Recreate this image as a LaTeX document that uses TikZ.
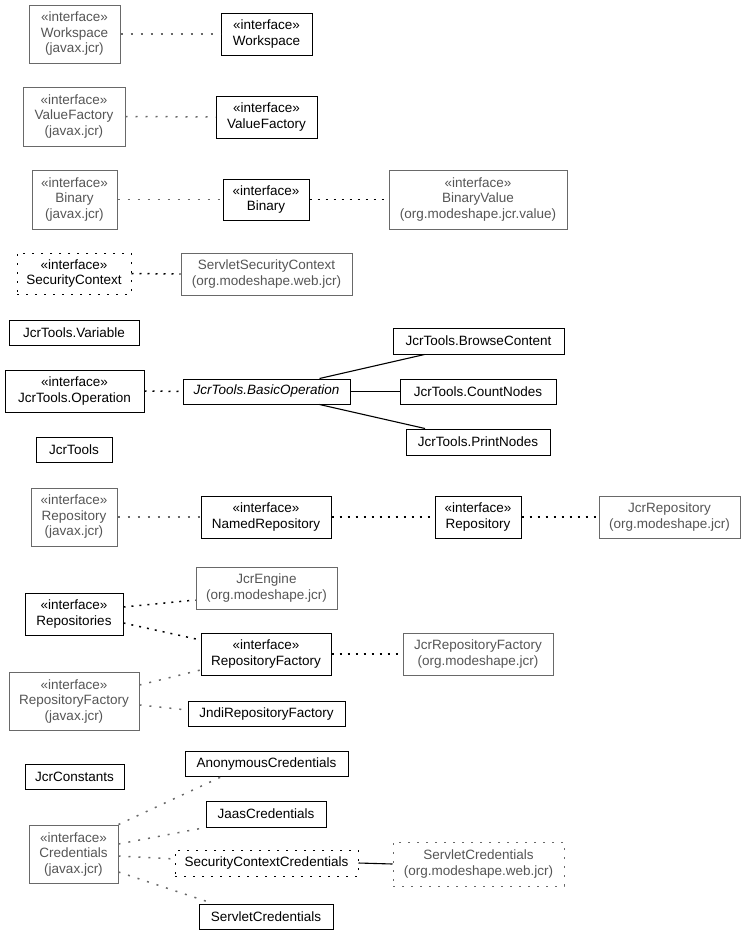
\documentclass[tikz,border=0pt]{standalone}
\usepackage{fontspec}
\setmainfont{Liberation Sans}
\definecolor{boxgray}{RGB}{105,105,105}
\definecolor{txtgray}{RGB}{85,85,85}
\tikzset{
  base/.style={rectangle, inner sep=0pt, align=center, font=\fontsize{13.5}{15.5}\selectfont, line width=1pt},
  cls/.style={base, draw=black, text=black},
  ext/.style={base, draw=boxgray, text=txtgray},
  clsdot/.style={cls, dash pattern=on 2pt off 7pt},
  extdot/.style={ext, dash pattern=on 2pt off 7pt},
  realb/.style={line width=1.5pt, dash pattern=on 2pt off 6pt, black},
  realg/.style={line width=1.5pt, dash pattern=on 2pt off 8pt, boxgray},
  assoc/.style={line width=1.1pt, black}
}
\begin{document}
\begin{tikzpicture}[x=1pt,y=-1pt]
\useasboundingbox (0,0) rectangle (747,935);
% row 1
\node[ext, minimum width=91pt, minimum height=58pt] (wsJ) at (74.5,34) {«interface»\\Workspace\\(javax.jcr)};
\node[cls, minimum width=91pt, minimum height=42pt] (ws) at (266.5,34) {«interface»\\Workspace};
% row 2
\node[ext, minimum width=102pt, minimum height=59pt] (vfJ) at (74,116.5) {«interface»\\ValueFactory\\(javax.jcr)};
\node[cls, minimum width=101pt, minimum height=42pt] (vf) at (266.5,117) {«interface»\\ValueFactory};
% row 3
\node[ext, minimum width=85pt, minimum height=59pt] (binJ) at (74.5,199.5) {«interface»\\Binary\\(javax.jcr)};
\node[cls, minimum width=86pt, minimum height=41pt] (bin) at (266,199.5) {«interface»\\Binary};
\node[ext, minimum width=178pt, minimum height=59pt] (bv) at (478,199.5) {«interface»\\BinaryValue\\(org.modeshape.jcr.value)};
% row 4
\node[clsdot, minimum width=114pt, minimum height=41pt] (sc) at (74,273.5) {«interface»\\SecurityContext};
\node[ext, minimum width=171pt, minimum height=42pt] (ssc) at (266.5,274) {ServletSecurityContext\\(org.modeshape.web.jcr)};
% JcrTools
\node[cls, minimum width=130pt, minimum height=25pt] (var) at (74,332.5) {JcrTools.Variable};
\node[cls, minimum width=139pt, minimum height=42pt] (op) at (74.5,391) {«interface»\\JcrTools.Operation};
\node[cls, minimum width=167pt, minimum height=25pt, font=\fontsize{13.5}{15.5}\selectfont\itshape] (bop) at (266.5,391.5) {JcrTools.BasicOperation};
\node[cls, minimum width=171pt, minimum height=26pt] (bc) at (478.5,341) {JcrTools.BrowseContent};
\node[cls, minimum width=156pt, minimum height=25pt] (cn) at (478,391.5) {JcrTools.CountNodes};
\node[cls, minimum width=144pt, minimum height=26pt] (pn) at (478,442) {JcrTools.PrintNodes};
\node[cls, minimum width=76pt, minimum height=25pt] (jt) at (74,449.5) {JcrTools};
% Repository row
\node[ext, minimum width=86pt, minimum height=58pt] (repJ) at (74,517) {«interface»\\Repository\\(javax.jcr)};
\node[cls, minimum width=130pt, minimum height=42pt] (nrep) at (266,517) {«interface»\\NamedRepository};
\node[cls, minimum width=86pt, minimum height=42pt] (rep) at (478,517) {«interface»\\Repository};
\node[ext, minimum width=141pt, minimum height=42pt] (jcrrep) at (669.5,517) {JcrRepository\\(org.modeshape.jcr)};
% Repositories block
\node[ext, minimum width=141pt, minimum height=42pt] (eng) at (266.5,588) {JcrEngine\\(org.modeshape.jcr)};
\node[cls, minimum width=98pt, minimum height=42pt] (reps) at (74,614) {«interface»\\Repositories};
\node[cls, minimum width=130pt, minimum height=42pt] (rf) at (266,654) {«interface»\\RepositoryFactory};
\node[ext, minimum width=150pt, minimum height=42pt] (jrf) at (478,654) {JcrRepositoryFactory\\(org.modeshape.jcr)};
\node[ext, minimum width=130pt, minimum height=58pt] (rfJ) at (74,701) {«interface»\\RepositoryFactory\\(javax.jcr)};
\node[cls, minimum width=157pt, minimum height=25pt] (jndi) at (266.5,713.5) {JndiRepositoryFactory};
% Credentials block
\node[cls, minimum width=99pt, minimum height=25pt] (jc) at (74.5,776.5) {JcrConstants};
\node[cls, minimum width=163pt, minimum height=25pt] (anon) at (266.5,763.5) {AnonymousCredentials};
\node[cls, minimum width=120pt, minimum height=26pt] (jaas) at (266,814) {JaasCredentials};
\node[ext, minimum width=89pt, minimum height=58pt] (credJ) at (73.5,854) {«interface»\\Credentials\\(javax.jcr)};
\node[clsdot, minimum width=183pt, minimum height=26pt] (scc) at (266.5,863) {SecurityContextCredentials};
\node[extdot, minimum width=171pt, minimum height=44pt] (sc2) at (478.5,864) {ServletCredentials\\(org.modeshape.web.jcr)};
\node[cls, minimum width=134pt, minimum height=25pt] (servc) at (266,916.5) {ServletCredentials};
% connectors
\draw[realg] (wsJ.east) -- (ws.west);
\draw[realg] (vfJ.east) -- (vf.west);
\draw[realg] (binJ.east) -- (bin.west);
\draw[realb] (bin.east) -- (bv.west);
\draw[realb] (sc.east) -- (ssc.west);
\draw[realb] (op.east) -- (bop.west);
\draw[assoc] ([xshift=53pt]bop.north) -- ([xshift=-54pt]bc.south);
\draw[assoc] (bop.east) -- (cn.west);
\draw[assoc] ([xshift=53pt]bop.south) -- ([xshift=-53pt]pn.north);
\draw[realg] (repJ.east) -- (nrep.west);
\draw[realb] (nrep.east) -- (rep.west);
\draw[realb] (rep.east) -- (jcrrep.west);
\draw[realb] ([yshift=7pt]reps.east) -- ([yshift=-12pt]eng.west);
\draw[realb] ([yshift=-9pt]reps.east) -- ([yshift=14pt]rf.west);
\draw[realb] (rf.east) -- (jrf.west);
\draw[realg] ([yshift=16pt]rfJ.east) -- ([yshift=-16pt]rf.west);
\draw[realg] ([yshift=-4pt]rfJ.east) -- ([yshift=3.5pt]jndi.west);
\draw[realg] (credJ.north east) -- ([xshift=-44.5pt]anon.south);
\draw[realg] ([yshift=10pt]credJ.east) -- (jaas.south west);
\draw[realg] ([yshift=-2pt]credJ.east) -- ([yshift=4pt]scc.west);
\draw[realg] ([yshift=-18pt]credJ.east) -- ([xshift=-53pt]servc.north);
\draw[assoc] (scc.east) -- (sc2.west);
\end{tikzpicture}
\end{document}
